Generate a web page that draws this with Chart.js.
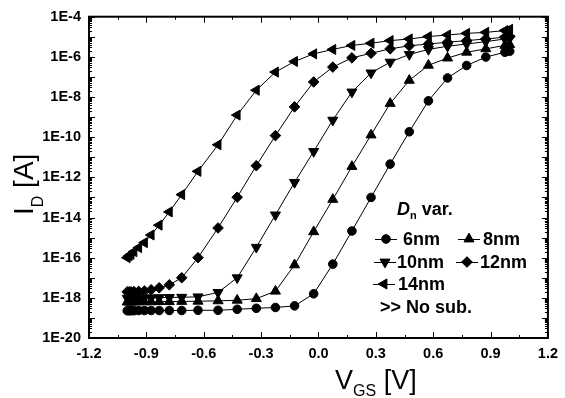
<!DOCTYPE html>
<html>
<head>
<meta charset="utf-8">
<script src="https://cdn.jsdelivr.net/npm/chart.js@4.4.1/dist/chart.umd.min.js"></script>
<style>
  html, body { margin: 0; padding: 0; background: #fff; }
  #wrap { width: 565px; height: 398px; }
</style>
</head>
<body>
<div id="wrap"><canvas id="c" width="565" height="398"></canvas></div>
<script>
// gate voltage points (V)
const vgs = [-1.0, -0.99, -0.98, -0.965, -0.94, -0.91, -0.875, -0.833, -0.78, -0.715, -0.63,
  -0.525, -0.425, -0.325, -0.225, -0.125, -0.025, 0.075, 0.175, 0.275, 0.375, 0.475,
  0.575, 0.675, 0.775, 0.875, 0.975, 1.0];

// log10 of drain current I_D [A] for each D_n
const logId6nm = [-18.64, -18.64, -18.64, -18.64, -18.63, -18.63, -18.63, -18.63, -18.63, -18.63, -18.62,
  -18.62, -18.57, -18.52, -18.48, -18.40, -17.80, -16.32, -14.67, -13.00, -11.34, -9.73,
  -8.19, -7.05, -6.43, -6.01, -5.77, -5.72];
const logId8nm = [-18.21, -18.21, -18.21, -18.21, -18.20, -18.20, -18.20, -18.19, -18.19, -18.18, -18.17,
  -18.15, -18.12, -18.04, -17.67, -16.36, -14.71, -13.10, -11.46, -9.89, -8.32, -7.17,
  -6.42, -6.06, -5.77, -5.60, -5.43, -5.39];
const logId10nm = [-18.02, -18.02, -18.02, -18.01, -18.01, -18.00, -18.00, -17.99, -17.98, -17.97, -17.95,
  -17.73, -17.00, -15.48, -13.87, -12.25, -10.71, -9.15, -7.75, -6.80, -6.26, -5.88,
  -5.63, -5.47, -5.36, -5.24, -5.11, -5.08];
const logId12nm = [-17.70, -17.70, -17.70, -17.69, -17.68, -17.66, -17.60, -17.50, -17.35, -17.00, -16.00,
  -14.52, -12.99, -11.42, -9.92, -8.49, -7.25, -6.51, -6.05, -5.82, -5.60, -5.45,
  -5.36, -5.27, -5.19, -5.11, -5.02, -4.99];
const logId14nm = [-16.00, -15.90, -15.83, -15.70, -15.50, -15.25, -14.87, -14.38, -13.72, -12.86, -11.70,
  -10.38, -8.90, -7.66, -6.76, -6.23, -5.85, -5.63, -5.43, -5.32, -5.19, -5.11,
  -4.99, -4.91, -4.83, -4.78, -4.69, -4.63];

const seriesNames = ["6nm", "8nm", "10nm", "12nm", "14nm"];
const xTickValues = [-1.2, -0.9, -0.6, -0.3, 0.0, 0.3, 0.6, 0.9, 1.2];
const yTickExps = [-20, -18, -16, -14, -12, -10, -8, -6, -4];

const allSeries = [logId6nm, logId8nm, logId10nm, logId12nm, logId14nm];
// marker style per series: [pointStyle, rotation, radius]
const markers = [["circle", 0, 4.3], ["triangle", 0, 5.8], ["triangle", 180, 5.8], ["rectRot", 0, 5.3], ["triangle", 270, 5.8]];

const FONT = "'Liberation Sans', Arial, sans-serif";

const datasets = allSeries.map((s, k) => ({
  label: seriesNames[k],
  data: vgs.map((v, i) => ({ x: v, y: Math.pow(10, s[i]) })),
  borderColor: "#000",
  backgroundColor: "#000",
  borderWidth: 1,
  pointStyle: markers[k][0],
  pointRotation: markers[k][1],
  pointRadius: markers[k][2],
  pointBorderWidth: 1,
  tension: 0
}));

function line(ctx, x1, y1, x2, y2) {
  ctx.beginPath(); ctx.moveTo(x1, y1); ctx.lineTo(x2, y2); ctx.stroke();
}

// draws text parts one after another: [text, font, dy]
function drawParts(ctx, parts, x, y) {
  parts.forEach(p => {
    ctx.font = p[1];
    ctx.fillText(p[0], x, y + p[2]);
    x += ctx.measureText(p[0]).width;
  });
}

// frame + inward ticks on all four sides
const framePlugin = {
  id: "frame",
  afterDraw(chart) {
    const { ctx, chartArea: a, scales: { x, y } } = chart;
    ctx.save();
    ctx.strokeStyle = "#000";
    ctx.lineWidth = 1;
    for (let i = 0; i <= 16; i++) {
      const px = Math.round(x.getPixelForValue(-1.2 + i * 0.15)) + 0.5;
      const len = i % 2 ? 3 : 6;
      line(ctx, px, a.bottom, px, a.bottom - len);
      line(ctx, px, a.top, px, a.top + len);
    }
    for (let e = -20; e <= -4; e++) {
      const py = Math.round(y.getPixelForValue(Math.pow(10, e))) + 0.5;
      line(ctx, a.left, py, a.left + 6, py);
      line(ctx, a.right, py, a.right - 6, py);
      if (e < -4) {
        for (let m = 2; m <= 9; m++) {
          const pm = Math.round(y.getPixelForValue(m * Math.pow(10, e))) + 0.5;
          line(ctx, a.left, pm, a.left + 3, pm);
          line(ctx, a.right, pm, a.right - 3, pm);
        }
      }
    }
    ctx.lineWidth = 2;
    ctx.strokeRect(a.left, a.top, a.right - a.left, a.bottom - a.top);
    ctx.restore();
  }
};

// axis titles with subscripts and the in-plot legend
const textPlugin = {
  id: "texts",
  afterDraw(chart) {
    const ctx = chart.ctx;
    ctx.save();
    ctx.fillStyle = "#000";
    ctx.textAlign = "left";
    ctx.textBaseline = "alphabetic";

    // x title
    drawParts(ctx, [["V", "27px " + FONT, 0], ["GS", "16px " + FONT, 7], [" [V]", "27px " + FONT, 0]], 335, 389);

    // y title
    ctx.save();
    ctx.translate(33, 215);
    ctx.rotate(-Math.PI / 2);
    drawParts(ctx, [["I", "28px " + FONT, 0], ["D", "16px " + FONT, 10], [" [A]", "28px " + FONT, 0]], 0, 0);
    ctx.restore();

    // legend
    drawParts(ctx, [["D", "italic bold 18px " + FONT, 0], ["n", "bold 11px " + FONT, 4], [" var.", "bold 18px " + FONT, 0]], 397, 215);

    const items = [[0, 386, 239, 403], [1, 469, 239, 483], [2, 385, 262, 397], [3, 467, 262, 480], [4, 384, 284, 398]];
    items.forEach(it => {
      const ds = chart.data.datasets[it[0]];
      ctx.strokeStyle = "#000";
      ctx.lineWidth = 1;
      line(ctx, it[1] - 11, it[2] + 0.5, it[1] + 11, it[2] + 0.5);
      ctx.fillStyle = "#000";
      Chart.helpers.drawPoint(ctx, {
        pointStyle: ds.pointStyle, rotation: ds.pointRotation,
        radius: ds.pointRadius, borderWidth: 1
      }, it[1], it[2]);
      ctx.fill();
      ctx.font = "bold 18px " + FONT;
      ctx.textBaseline = "middle";
      ctx.fillText(ds.label, it[3], it[2] + 1);
      ctx.textBaseline = "alphabetic";
    });
    ctx.font = "bold 18px " + FONT;
    ctx.fillText(">> No sub.", 380, 313);
    ctx.restore();
  }
};

new Chart(document.getElementById("c"), {
  type: "line",
  data: { datasets: datasets },
  options: {
    responsive: false,
    animation: false,
    events: [],
    devicePixelRatio: 1,
    layout: { padding: { left: 0, top: 14, right: 17, bottom: 0 } },
    plugins: { legend: { display: false }, tooltip: { enabled: false } },
    scales: {
      x: {
        type: "linear",
        min: -1.2, max: 1.2,
        afterBuildTicks: s => { s.ticks = xTickValues.map(v => ({ value: v })); },
        afterFit: s => { s.height = 60; },
        grid: { display: false, drawTicks: false },
        border: { display: false },
        ticks: {
          padding: 7,
          color: "#000",
          font: { family: FONT, size: 14.5, weight: "bold" },
          maxRotation: 0,
          callback: v => (Math.abs(v) < 1e-9 ? 0 : v).toFixed(1)
        }
      },
      y: {
        type: "logarithmic",
        min: 1e-20, max: 1e-4,
        afterBuildTicks: s => { s.ticks = yTickExps.map(e => ({ value: Math.pow(10, e) })); },
        afterFit: s => { s.width = 89; },
        grid: { display: false, drawTicks: false },
        border: { display: false },
        ticks: {
          padding: 8,
          color: "#000",
          font: { family: FONT, size: 14.5, weight: "bold" },
          callback: v => "1E" + Math.round(Math.log10(v))
        }
      }
    }
  },
  plugins: [framePlugin, textPlugin]
});
</script>
</body>
</html>
